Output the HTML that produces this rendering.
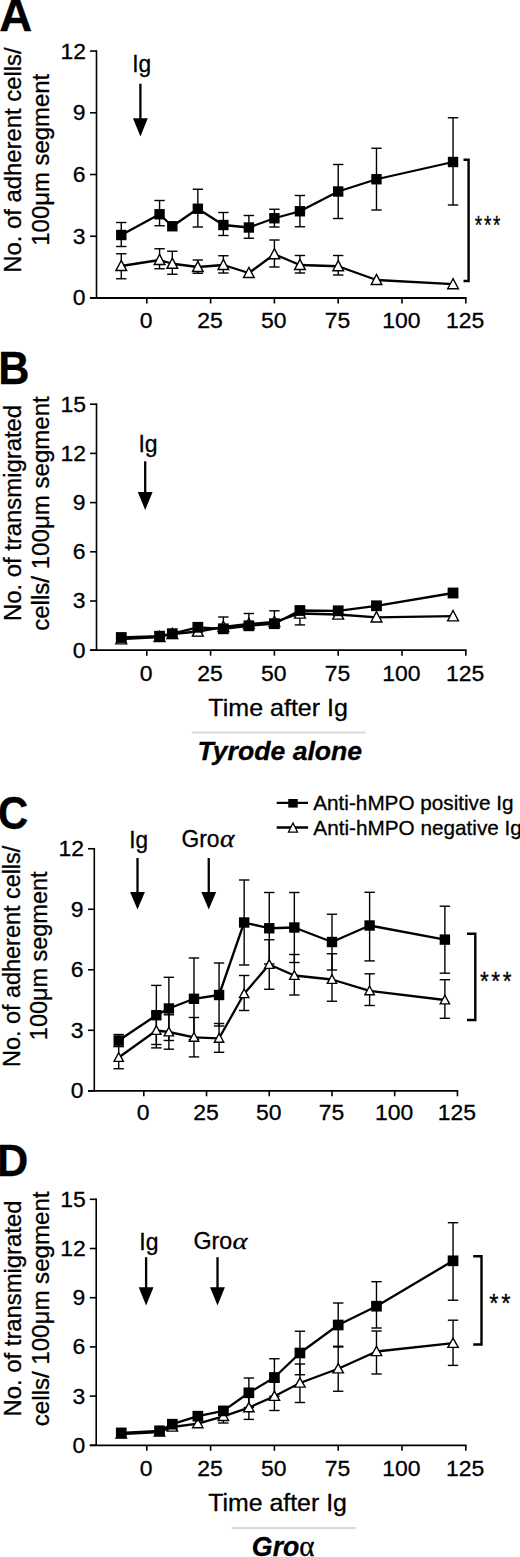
<!DOCTYPE html>
<html><head><meta charset="utf-8"><title>Figure</title>
<style>
html,body{margin:0;padding:0;background:#fff;}
body{width:520px;height:1557px;overflow:hidden;}
svg{display:block;}
text{font-family:"Liberation Sans", sans-serif;fill:#000;stroke:#000;stroke-width:0.3px;}
line{stroke:#000;}
.g{stroke:#d9d9d9 !important;}
</style></head>
<body>
<svg width="520" height="1557" viewBox="0 0 520 1557">
<rect width="520" height="1557" fill="#fff"/>
<line x1="96.50" y1="50.24" x2="96.50" y2="298.80" stroke-width="1.6"/>
<line x1="90.00" y1="298.00" x2="466.60" y2="298.00" stroke-width="1.8"/>
<line x1="90.00" y1="298.00" x2="96.50" y2="298.00" stroke-width="1.6"/>
<line x1="90.00" y1="236.26" x2="96.50" y2="236.26" stroke-width="1.6"/>
<line x1="90.00" y1="174.52" x2="96.50" y2="174.52" stroke-width="1.6"/>
<line x1="90.00" y1="112.78" x2="96.50" y2="112.78" stroke-width="1.6"/>
<line x1="90.00" y1="51.04" x2="96.50" y2="51.04" stroke-width="1.6"/>
<line x1="146.80" y1="298.00" x2="146.80" y2="303.50" stroke-width="1.6"/>
<line x1="210.60" y1="298.00" x2="210.60" y2="303.50" stroke-width="1.6"/>
<line x1="274.40" y1="298.00" x2="274.40" y2="303.50" stroke-width="1.6"/>
<line x1="338.20" y1="298.00" x2="338.20" y2="303.50" stroke-width="1.6"/>
<line x1="402.00" y1="298.00" x2="402.00" y2="303.50" stroke-width="1.6"/>
<line x1="465.80" y1="298.00" x2="465.80" y2="303.50" stroke-width="1.6"/>
<line x1="121.28" y1="253.75" x2="121.28" y2="278.75" stroke-width="1.4"/>
<line x1="116.08" y1="253.75" x2="126.48" y2="253.75" stroke-width="1.4"/>
<line x1="116.08" y1="278.75" x2="126.48" y2="278.75" stroke-width="1.4"/>
<line x1="159.56" y1="248.75" x2="159.56" y2="268.75" stroke-width="1.4"/>
<line x1="154.36" y1="248.75" x2="164.76" y2="248.75" stroke-width="1.4"/>
<line x1="154.36" y1="268.75" x2="164.76" y2="268.75" stroke-width="1.4"/>
<line x1="172.32" y1="251.25" x2="172.32" y2="274.25" stroke-width="1.4"/>
<line x1="167.12" y1="251.25" x2="177.52" y2="251.25" stroke-width="1.4"/>
<line x1="167.12" y1="274.25" x2="177.52" y2="274.25" stroke-width="1.4"/>
<line x1="197.84" y1="260.00" x2="197.84" y2="273.25" stroke-width="1.4"/>
<line x1="192.64" y1="260.00" x2="203.04" y2="260.00" stroke-width="1.4"/>
<line x1="192.64" y1="273.25" x2="203.04" y2="273.25" stroke-width="1.4"/>
<line x1="223.36" y1="255.75" x2="223.36" y2="273.00" stroke-width="1.4"/>
<line x1="218.16" y1="255.75" x2="228.56" y2="255.75" stroke-width="1.4"/>
<line x1="218.16" y1="273.00" x2="228.56" y2="273.00" stroke-width="1.4"/>
<line x1="274.40" y1="240.00" x2="274.40" y2="267.00" stroke-width="1.4"/>
<line x1="269.20" y1="240.00" x2="279.60" y2="240.00" stroke-width="1.4"/>
<line x1="269.20" y1="267.00" x2="279.60" y2="267.00" stroke-width="1.4"/>
<line x1="299.92" y1="255.50" x2="299.92" y2="273.00" stroke-width="1.4"/>
<line x1="294.72" y1="255.50" x2="305.12" y2="255.50" stroke-width="1.4"/>
<line x1="294.72" y1="273.00" x2="305.12" y2="273.00" stroke-width="1.4"/>
<line x1="338.20" y1="255.50" x2="338.20" y2="275.00" stroke-width="1.4"/>
<line x1="333.00" y1="255.50" x2="343.40" y2="255.50" stroke-width="1.4"/>
<line x1="333.00" y1="275.00" x2="343.40" y2="275.00" stroke-width="1.4"/>
<line x1="121.28" y1="222.50" x2="121.28" y2="246.50" stroke-width="1.4"/>
<line x1="116.08" y1="222.50" x2="126.48" y2="222.50" stroke-width="1.4"/>
<line x1="116.08" y1="246.50" x2="126.48" y2="246.50" stroke-width="1.4"/>
<line x1="159.56" y1="200.50" x2="159.56" y2="225.75" stroke-width="1.4"/>
<line x1="154.36" y1="200.50" x2="164.76" y2="200.50" stroke-width="1.4"/>
<line x1="154.36" y1="225.75" x2="164.76" y2="225.75" stroke-width="1.4"/>
<line x1="197.84" y1="189.25" x2="197.84" y2="227.00" stroke-width="1.4"/>
<line x1="192.64" y1="189.25" x2="203.04" y2="189.25" stroke-width="1.4"/>
<line x1="192.64" y1="227.00" x2="203.04" y2="227.00" stroke-width="1.4"/>
<line x1="223.36" y1="212.50" x2="223.36" y2="235.50" stroke-width="1.4"/>
<line x1="218.16" y1="212.50" x2="228.56" y2="212.50" stroke-width="1.4"/>
<line x1="218.16" y1="235.50" x2="228.56" y2="235.50" stroke-width="1.4"/>
<line x1="248.88" y1="215.50" x2="248.88" y2="238.25" stroke-width="1.4"/>
<line x1="243.68" y1="215.50" x2="254.08" y2="215.50" stroke-width="1.4"/>
<line x1="243.68" y1="238.25" x2="254.08" y2="238.25" stroke-width="1.4"/>
<line x1="274.40" y1="209.25" x2="274.40" y2="227.00" stroke-width="1.4"/>
<line x1="269.20" y1="209.25" x2="279.60" y2="209.25" stroke-width="1.4"/>
<line x1="269.20" y1="227.00" x2="279.60" y2="227.00" stroke-width="1.4"/>
<line x1="299.92" y1="195.50" x2="299.92" y2="226.75" stroke-width="1.4"/>
<line x1="294.72" y1="195.50" x2="305.12" y2="195.50" stroke-width="1.4"/>
<line x1="294.72" y1="226.75" x2="305.12" y2="226.75" stroke-width="1.4"/>
<line x1="338.20" y1="164.50" x2="338.20" y2="218.50" stroke-width="1.4"/>
<line x1="333.00" y1="164.50" x2="343.40" y2="164.50" stroke-width="1.4"/>
<line x1="333.00" y1="218.50" x2="343.40" y2="218.50" stroke-width="1.4"/>
<line x1="376.48" y1="148.25" x2="376.48" y2="210.00" stroke-width="1.4"/>
<line x1="371.28" y1="148.25" x2="381.68" y2="148.25" stroke-width="1.4"/>
<line x1="371.28" y1="210.00" x2="381.68" y2="210.00" stroke-width="1.4"/>
<line x1="453.04" y1="117.75" x2="453.04" y2="205.00" stroke-width="1.4"/>
<line x1="447.84" y1="117.75" x2="458.24" y2="117.75" stroke-width="1.4"/>
<line x1="447.84" y1="205.00" x2="458.24" y2="205.00" stroke-width="1.4"/>
<polyline points="121.28,266.00 159.56,260.00 172.32,263.75 197.84,267.00 223.36,265.00 248.88,273.00 274.40,254.25 299.92,265.00 338.20,266.25 376.48,280.00 453.04,284.20" fill="none" stroke="#000" stroke-width="2.3" stroke-linejoin="round"/>
<path d="M121.28 260.44L126.63 270.55L115.93 270.55Z" fill="#fff" stroke="#000" stroke-width="1.4" stroke-linejoin="miter"/>
<path d="M159.56 254.44L164.91 264.55L154.21 264.55Z" fill="#fff" stroke="#000" stroke-width="1.4" stroke-linejoin="miter"/>
<path d="M172.32 258.19L177.67 268.30L166.97 268.30Z" fill="#fff" stroke="#000" stroke-width="1.4" stroke-linejoin="miter"/>
<path d="M197.84 261.44L203.19 271.55L192.49 271.55Z" fill="#fff" stroke="#000" stroke-width="1.4" stroke-linejoin="miter"/>
<path d="M223.36 259.44L228.71 269.55L218.01 269.55Z" fill="#fff" stroke="#000" stroke-width="1.4" stroke-linejoin="miter"/>
<path d="M248.88 267.44L254.23 277.55L243.53 277.55Z" fill="#fff" stroke="#000" stroke-width="1.4" stroke-linejoin="miter"/>
<path d="M274.40 248.69L279.75 258.80L269.05 258.80Z" fill="#fff" stroke="#000" stroke-width="1.4" stroke-linejoin="miter"/>
<path d="M299.92 259.44L305.27 269.55L294.57 269.55Z" fill="#fff" stroke="#000" stroke-width="1.4" stroke-linejoin="miter"/>
<path d="M338.20 260.69L343.55 270.80L332.85 270.80Z" fill="#fff" stroke="#000" stroke-width="1.4" stroke-linejoin="miter"/>
<path d="M376.48 274.44L381.83 284.55L371.13 284.55Z" fill="#fff" stroke="#000" stroke-width="1.4" stroke-linejoin="miter"/>
<path d="M453.04 278.64L458.39 288.75L447.69 288.75Z" fill="#fff" stroke="#000" stroke-width="1.4" stroke-linejoin="miter"/>
<polyline points="121.28,235.00 159.56,214.25 172.32,226.25 197.84,208.75 223.36,225.00 248.88,227.50 274.40,218.25 299.92,211.25 338.20,191.50 376.48,179.25 453.04,162.00" fill="none" stroke="#000" stroke-width="2.3" stroke-linejoin="round"/>
<rect x="116.08" y="229.80" width="10.4" height="10.4" fill="#000"/>
<rect x="154.36" y="209.05" width="10.4" height="10.4" fill="#000"/>
<rect x="167.12" y="221.05" width="10.4" height="10.4" fill="#000"/>
<rect x="192.64" y="203.55" width="10.4" height="10.4" fill="#000"/>
<rect x="218.16" y="219.80" width="10.4" height="10.4" fill="#000"/>
<rect x="243.68" y="222.30" width="10.4" height="10.4" fill="#000"/>
<rect x="269.20" y="213.05" width="10.4" height="10.4" fill="#000"/>
<rect x="294.72" y="206.05" width="10.4" height="10.4" fill="#000"/>
<rect x="333.00" y="186.30" width="10.4" height="10.4" fill="#000"/>
<rect x="371.28" y="174.05" width="10.4" height="10.4" fill="#000"/>
<rect x="447.84" y="156.80" width="10.4" height="10.4" fill="#000"/>
<line x1="140.40" y1="83.70" x2="140.40" y2="120.30" stroke-width="2.3"/>
<path d="M133.00 118.30L147.80 118.30L140.40 136.50Z" fill="#000"/>
<path d="M463.50 159.80H468.60V281.00H463.50" fill="none" stroke="#000" stroke-width="2.4" stroke-linejoin="miter"/>
<line x1="96.50" y1="403.40" x2="96.50" y2="651.00" stroke-width="1.6"/>
<line x1="90.00" y1="650.20" x2="466.60" y2="650.20" stroke-width="1.8"/>
<line x1="90.00" y1="650.20" x2="96.50" y2="650.20" stroke-width="1.6"/>
<line x1="90.00" y1="601.00" x2="96.50" y2="601.00" stroke-width="1.6"/>
<line x1="90.00" y1="551.80" x2="96.50" y2="551.80" stroke-width="1.6"/>
<line x1="90.00" y1="502.60" x2="96.50" y2="502.60" stroke-width="1.6"/>
<line x1="90.00" y1="453.40" x2="96.50" y2="453.40" stroke-width="1.6"/>
<line x1="90.00" y1="404.20" x2="96.50" y2="404.20" stroke-width="1.6"/>
<line x1="146.80" y1="650.20" x2="146.80" y2="655.70" stroke-width="1.6"/>
<line x1="210.60" y1="650.20" x2="210.60" y2="655.70" stroke-width="1.6"/>
<line x1="274.40" y1="650.20" x2="274.40" y2="655.70" stroke-width="1.6"/>
<line x1="338.20" y1="650.20" x2="338.20" y2="655.70" stroke-width="1.6"/>
<line x1="402.00" y1="650.20" x2="402.00" y2="655.70" stroke-width="1.6"/>
<line x1="465.80" y1="650.20" x2="465.80" y2="655.70" stroke-width="1.6"/>
<line x1="197.84" y1="631.50" x2="197.84" y2="636.00" stroke-width="1.4"/>
<line x1="192.64" y1="631.50" x2="203.04" y2="631.50" stroke-width="1.4"/>
<line x1="192.64" y1="636.00" x2="203.04" y2="636.00" stroke-width="1.4"/>
<line x1="299.92" y1="613.50" x2="299.92" y2="624.90" stroke-width="1.4"/>
<line x1="294.72" y1="613.50" x2="305.12" y2="613.50" stroke-width="1.4"/>
<line x1="294.72" y1="624.90" x2="305.12" y2="624.90" stroke-width="1.4"/>
<line x1="223.36" y1="617.00" x2="223.36" y2="628.80" stroke-width="1.4"/>
<line x1="218.16" y1="617.00" x2="228.56" y2="617.00" stroke-width="1.4"/>
<line x1="218.16" y1="628.80" x2="228.56" y2="628.80" stroke-width="1.4"/>
<line x1="248.88" y1="613.50" x2="248.88" y2="625.80" stroke-width="1.4"/>
<line x1="243.68" y1="613.50" x2="254.08" y2="613.50" stroke-width="1.4"/>
<line x1="243.68" y1="625.80" x2="254.08" y2="625.80" stroke-width="1.4"/>
<line x1="274.40" y1="610.80" x2="274.40" y2="623.70" stroke-width="1.4"/>
<line x1="269.20" y1="610.80" x2="279.60" y2="610.80" stroke-width="1.4"/>
<line x1="269.20" y1="623.70" x2="279.60" y2="623.70" stroke-width="1.4"/>
<polyline points="121.28,639.20 159.56,637.00 172.32,634.00 197.84,631.50 223.36,627.00 248.88,624.00 274.40,622.00 299.92,613.50 338.20,614.50 376.48,617.30 453.04,616.20" fill="none" stroke="#000" stroke-width="2.3" stroke-linejoin="round"/>
<path d="M121.28 633.54L126.68 643.84L115.88 643.84Z" fill="#fff" stroke="#000" stroke-width="1.4" stroke-linejoin="miter"/>
<path d="M159.56 631.34L164.96 641.63L154.16 641.63Z" fill="#fff" stroke="#000" stroke-width="1.4" stroke-linejoin="miter"/>
<path d="M172.32 628.34L177.72 638.63L166.92 638.63Z" fill="#fff" stroke="#000" stroke-width="1.4" stroke-linejoin="miter"/>
<path d="M197.84 625.84L203.24 636.13L192.44 636.13Z" fill="#fff" stroke="#000" stroke-width="1.4" stroke-linejoin="miter"/>
<path d="M223.36 621.34L228.76 631.63L217.96 631.63Z" fill="#fff" stroke="#000" stroke-width="1.4" stroke-linejoin="miter"/>
<path d="M248.88 618.34L254.28 628.63L243.48 628.63Z" fill="#fff" stroke="#000" stroke-width="1.4" stroke-linejoin="miter"/>
<path d="M274.40 616.34L279.80 626.63L269.00 626.63Z" fill="#fff" stroke="#000" stroke-width="1.4" stroke-linejoin="miter"/>
<path d="M299.92 607.84L305.32 618.13L294.52 618.13Z" fill="#fff" stroke="#000" stroke-width="1.4" stroke-linejoin="miter"/>
<path d="M338.20 608.84L343.60 619.13L332.80 619.13Z" fill="#fff" stroke="#000" stroke-width="1.4" stroke-linejoin="miter"/>
<path d="M376.48 611.63L381.88 621.93L371.08 621.93Z" fill="#fff" stroke="#000" stroke-width="1.4" stroke-linejoin="miter"/>
<path d="M453.04 610.54L458.44 620.84L447.64 620.84Z" fill="#fff" stroke="#000" stroke-width="1.4" stroke-linejoin="miter"/>
<polyline points="121.28,637.50 159.56,636.20 172.32,633.70 197.84,627.30 223.36,628.80 248.88,625.80 274.40,623.70 299.92,610.50 338.20,610.80 376.48,605.80 453.04,593.00" fill="none" stroke="#000" stroke-width="2.3" stroke-linejoin="round"/>
<rect x="115.88" y="632.10" width="10.8" height="10.8" fill="#000"/>
<rect x="154.16" y="630.80" width="10.8" height="10.8" fill="#000"/>
<rect x="166.92" y="628.30" width="10.8" height="10.8" fill="#000"/>
<rect x="192.44" y="621.90" width="10.8" height="10.8" fill="#000"/>
<rect x="217.96" y="623.40" width="10.8" height="10.8" fill="#000"/>
<rect x="243.48" y="620.40" width="10.8" height="10.8" fill="#000"/>
<rect x="269.00" y="618.30" width="10.8" height="10.8" fill="#000"/>
<rect x="294.52" y="605.10" width="10.8" height="10.8" fill="#000"/>
<rect x="332.80" y="605.40" width="10.8" height="10.8" fill="#000"/>
<rect x="371.08" y="600.40" width="10.8" height="10.8" fill="#000"/>
<rect x="447.64" y="587.60" width="10.8" height="10.8" fill="#000"/>
<line x1="145.20" y1="461.30" x2="145.20" y2="494.00" stroke-width="2.3"/>
<path d="M137.80 492.00L152.60 492.00L145.20 510.00Z" fill="#000"/>
<line class="g" x1="191.9" y1="732.5" x2="365.6" y2="732.5" stroke-width="2.2"/>
<line x1="94.30" y1="847.96" x2="94.30" y2="1091.60" stroke-width="1.6"/>
<line x1="88.00" y1="1090.80" x2="458.23" y2="1090.80" stroke-width="1.8"/>
<line x1="88.00" y1="1090.80" x2="94.30" y2="1090.80" stroke-width="1.6"/>
<line x1="88.00" y1="1030.29" x2="94.30" y2="1030.29" stroke-width="1.6"/>
<line x1="88.00" y1="969.78" x2="94.30" y2="969.78" stroke-width="1.6"/>
<line x1="88.00" y1="909.27" x2="94.30" y2="909.27" stroke-width="1.6"/>
<line x1="88.00" y1="848.76" x2="94.30" y2="848.76" stroke-width="1.6"/>
<line x1="143.80" y1="1090.80" x2="143.80" y2="1096.30" stroke-width="1.6"/>
<line x1="206.53" y1="1090.80" x2="206.53" y2="1096.30" stroke-width="1.6"/>
<line x1="269.25" y1="1090.80" x2="269.25" y2="1096.30" stroke-width="1.6"/>
<line x1="331.98" y1="1090.80" x2="331.98" y2="1096.30" stroke-width="1.6"/>
<line x1="394.70" y1="1090.80" x2="394.70" y2="1096.30" stroke-width="1.6"/>
<line x1="457.43" y1="1090.80" x2="457.43" y2="1096.30" stroke-width="1.6"/>
<line x1="118.71" y1="1046.25" x2="118.71" y2="1068.75" stroke-width="1.4"/>
<line x1="113.51" y1="1046.25" x2="123.91" y2="1046.25" stroke-width="1.4"/>
<line x1="113.51" y1="1068.75" x2="123.91" y2="1068.75" stroke-width="1.4"/>
<line x1="156.34" y1="1013.00" x2="156.34" y2="1047.90" stroke-width="1.4"/>
<line x1="151.15" y1="1013.00" x2="161.54" y2="1013.00" stroke-width="1.4"/>
<line x1="151.15" y1="1047.90" x2="161.54" y2="1047.90" stroke-width="1.4"/>
<line x1="168.89" y1="1014.80" x2="168.89" y2="1049.20" stroke-width="1.4"/>
<line x1="163.69" y1="1014.80" x2="174.09" y2="1014.80" stroke-width="1.4"/>
<line x1="163.69" y1="1049.20" x2="174.09" y2="1049.20" stroke-width="1.4"/>
<line x1="193.98" y1="1017.50" x2="193.98" y2="1056.90" stroke-width="1.4"/>
<line x1="188.78" y1="1017.50" x2="199.18" y2="1017.50" stroke-width="1.4"/>
<line x1="188.78" y1="1056.90" x2="199.18" y2="1056.90" stroke-width="1.4"/>
<line x1="219.07" y1="1023.50" x2="219.07" y2="1052.30" stroke-width="1.4"/>
<line x1="213.87" y1="1023.50" x2="224.27" y2="1023.50" stroke-width="1.4"/>
<line x1="213.87" y1="1052.30" x2="224.27" y2="1052.30" stroke-width="1.4"/>
<line x1="244.16" y1="975.50" x2="244.16" y2="1010.50" stroke-width="1.4"/>
<line x1="238.96" y1="975.50" x2="249.36" y2="975.50" stroke-width="1.4"/>
<line x1="238.96" y1="1010.50" x2="249.36" y2="1010.50" stroke-width="1.4"/>
<line x1="269.25" y1="939.75" x2="269.25" y2="989.25" stroke-width="1.4"/>
<line x1="264.05" y1="939.75" x2="274.45" y2="939.75" stroke-width="1.4"/>
<line x1="264.05" y1="989.25" x2="274.45" y2="989.25" stroke-width="1.4"/>
<line x1="294.34" y1="954.50" x2="294.34" y2="995.00" stroke-width="1.4"/>
<line x1="289.14" y1="954.50" x2="299.54" y2="954.50" stroke-width="1.4"/>
<line x1="289.14" y1="995.00" x2="299.54" y2="995.00" stroke-width="1.4"/>
<line x1="331.98" y1="953.75" x2="331.98" y2="1001.25" stroke-width="1.4"/>
<line x1="326.78" y1="953.75" x2="337.18" y2="953.75" stroke-width="1.4"/>
<line x1="326.78" y1="1001.25" x2="337.18" y2="1001.25" stroke-width="1.4"/>
<line x1="369.61" y1="973.80" x2="369.61" y2="1005.50" stroke-width="1.4"/>
<line x1="364.41" y1="973.80" x2="374.81" y2="973.80" stroke-width="1.4"/>
<line x1="364.41" y1="1005.50" x2="374.81" y2="1005.50" stroke-width="1.4"/>
<line x1="444.88" y1="979.70" x2="444.88" y2="1018.30" stroke-width="1.4"/>
<line x1="439.68" y1="979.70" x2="450.08" y2="979.70" stroke-width="1.4"/>
<line x1="439.68" y1="1018.30" x2="450.08" y2="1018.30" stroke-width="1.4"/>
<line x1="118.71" y1="1034.50" x2="118.71" y2="1046.60" stroke-width="1.4"/>
<line x1="113.51" y1="1034.50" x2="123.91" y2="1034.50" stroke-width="1.4"/>
<line x1="113.51" y1="1046.60" x2="123.91" y2="1046.60" stroke-width="1.4"/>
<line x1="156.34" y1="985.40" x2="156.34" y2="1044.50" stroke-width="1.4"/>
<line x1="151.15" y1="985.40" x2="161.54" y2="985.40" stroke-width="1.4"/>
<line x1="151.15" y1="1044.50" x2="161.54" y2="1044.50" stroke-width="1.4"/>
<line x1="168.89" y1="977.30" x2="168.89" y2="1040.50" stroke-width="1.4"/>
<line x1="163.69" y1="977.30" x2="174.09" y2="977.30" stroke-width="1.4"/>
<line x1="163.69" y1="1040.50" x2="174.09" y2="1040.50" stroke-width="1.4"/>
<line x1="193.98" y1="958.00" x2="193.98" y2="1039.60" stroke-width="1.4"/>
<line x1="188.78" y1="958.00" x2="199.18" y2="958.00" stroke-width="1.4"/>
<line x1="188.78" y1="1039.60" x2="199.18" y2="1039.60" stroke-width="1.4"/>
<line x1="219.07" y1="963.00" x2="219.07" y2="1026.00" stroke-width="1.4"/>
<line x1="213.87" y1="963.00" x2="224.27" y2="963.00" stroke-width="1.4"/>
<line x1="213.87" y1="1026.00" x2="224.27" y2="1026.00" stroke-width="1.4"/>
<line x1="244.16" y1="880.00" x2="244.16" y2="965.00" stroke-width="1.4"/>
<line x1="238.96" y1="880.00" x2="249.36" y2="880.00" stroke-width="1.4"/>
<line x1="238.96" y1="965.00" x2="249.36" y2="965.00" stroke-width="1.4"/>
<line x1="269.25" y1="892.50" x2="269.25" y2="964.00" stroke-width="1.4"/>
<line x1="264.05" y1="892.50" x2="274.45" y2="892.50" stroke-width="1.4"/>
<line x1="264.05" y1="964.00" x2="274.45" y2="964.00" stroke-width="1.4"/>
<line x1="294.34" y1="892.50" x2="294.34" y2="962.50" stroke-width="1.4"/>
<line x1="289.14" y1="892.50" x2="299.54" y2="892.50" stroke-width="1.4"/>
<line x1="289.14" y1="962.50" x2="299.54" y2="962.50" stroke-width="1.4"/>
<line x1="331.98" y1="914.25" x2="331.98" y2="970.00" stroke-width="1.4"/>
<line x1="326.78" y1="914.25" x2="337.18" y2="914.25" stroke-width="1.4"/>
<line x1="326.78" y1="970.00" x2="337.18" y2="970.00" stroke-width="1.4"/>
<line x1="369.61" y1="892.30" x2="369.61" y2="960.90" stroke-width="1.4"/>
<line x1="364.41" y1="892.30" x2="374.81" y2="892.30" stroke-width="1.4"/>
<line x1="364.41" y1="960.90" x2="374.81" y2="960.90" stroke-width="1.4"/>
<line x1="444.88" y1="906.20" x2="444.88" y2="973.20" stroke-width="1.4"/>
<line x1="439.68" y1="906.20" x2="450.08" y2="906.20" stroke-width="1.4"/>
<line x1="439.68" y1="973.20" x2="450.08" y2="973.20" stroke-width="1.4"/>
<polyline points="118.71,1057.50 156.34,1030.50 168.89,1032.00 193.98,1037.30 219.07,1038.30 244.16,993.75 269.25,964.50 294.34,975.50 331.98,979.50 369.61,990.80 444.88,1000.00" fill="none" stroke="#000" stroke-width="2.3" stroke-linejoin="round"/>
<path d="M118.71 1052.71L123.41 1061.41L114.01 1061.41Z" fill="#fff" stroke="#000" stroke-width="1.4" stroke-linejoin="miter"/>
<path d="M156.34 1025.71L161.04 1034.41L151.65 1034.41Z" fill="#fff" stroke="#000" stroke-width="1.4" stroke-linejoin="miter"/>
<path d="M168.89 1027.21L173.59 1035.91L164.19 1035.91Z" fill="#fff" stroke="#000" stroke-width="1.4" stroke-linejoin="miter"/>
<path d="M193.98 1032.51L198.68 1041.21L189.28 1041.21Z" fill="#fff" stroke="#000" stroke-width="1.4" stroke-linejoin="miter"/>
<path d="M219.07 1033.51L223.77 1042.21L214.37 1042.21Z" fill="#fff" stroke="#000" stroke-width="1.4" stroke-linejoin="miter"/>
<path d="M244.16 988.97L248.86 997.66L239.46 997.66Z" fill="#fff" stroke="#000" stroke-width="1.4" stroke-linejoin="miter"/>
<path d="M269.25 959.72L273.95 968.41L264.55 968.41Z" fill="#fff" stroke="#000" stroke-width="1.4" stroke-linejoin="miter"/>
<path d="M294.34 970.72L299.04 979.41L289.64 979.41Z" fill="#fff" stroke="#000" stroke-width="1.4" stroke-linejoin="miter"/>
<path d="M331.98 974.72L336.68 983.41L327.28 983.41Z" fill="#fff" stroke="#000" stroke-width="1.4" stroke-linejoin="miter"/>
<path d="M369.61 986.01L374.31 994.71L364.91 994.71Z" fill="#fff" stroke="#000" stroke-width="1.4" stroke-linejoin="miter"/>
<path d="M444.88 995.22L449.58 1003.91L440.18 1003.91Z" fill="#fff" stroke="#000" stroke-width="1.4" stroke-linejoin="miter"/>
<polyline points="118.71,1040.50 156.34,1015.20 168.89,1008.50 193.98,998.80 219.07,995.00 244.16,922.50 269.25,928.25 294.34,927.50 331.98,942.00 369.61,925.50 444.88,939.60" fill="none" stroke="#000" stroke-width="2.3" stroke-linejoin="round"/>
<rect x="113.51" y="1035.30" width="10.4" height="10.4" fill="#000"/>
<rect x="151.15" y="1010.00" width="10.4" height="10.4" fill="#000"/>
<rect x="163.69" y="1003.30" width="10.4" height="10.4" fill="#000"/>
<rect x="188.78" y="993.60" width="10.4" height="10.4" fill="#000"/>
<rect x="213.87" y="989.80" width="10.4" height="10.4" fill="#000"/>
<rect x="238.96" y="917.30" width="10.4" height="10.4" fill="#000"/>
<rect x="264.05" y="923.05" width="10.4" height="10.4" fill="#000"/>
<rect x="289.14" y="922.30" width="10.4" height="10.4" fill="#000"/>
<rect x="326.78" y="936.80" width="10.4" height="10.4" fill="#000"/>
<rect x="364.41" y="920.30" width="10.4" height="10.4" fill="#000"/>
<rect x="439.68" y="934.40" width="10.4" height="10.4" fill="#000"/>
<line x1="137.50" y1="858.00" x2="137.50" y2="894.00" stroke-width="2.3"/>
<path d="M130.10 892.00L144.90 892.00L137.50 909.50Z" fill="#000"/>
<line x1="208.75" y1="858.00" x2="208.75" y2="894.00" stroke-width="2.3"/>
<path d="M201.35 892.00L216.15 892.00L208.75 909.50Z" fill="#000"/>
<path d="M467.00 933.80H475.30V1020.00H467.00" fill="none" stroke="#000" stroke-width="2.4" stroke-linejoin="miter"/>
<line x1="276.7" y1="802.8" x2="308.1" y2="802.8" stroke-width="2.3"/>
<rect x="288.25" y="799.00" width="9.5" height="8.6" fill="#000"/>
<line x1="276.7" y1="827.5" x2="308.1" y2="827.5" stroke-width="2.3"/>
<path d="M293.00 823.05L297.50 832.05L288.50 832.05Z" fill="#fff" stroke="#000" stroke-width="1.3" stroke-linejoin="miter"/>
<line x1="96.20" y1="1198.50" x2="96.20" y2="1446.10" stroke-width="1.6"/>
<line x1="89.80" y1="1445.30" x2="466.60" y2="1445.30" stroke-width="1.8"/>
<line x1="89.80" y1="1445.30" x2="96.20" y2="1445.30" stroke-width="1.6"/>
<line x1="89.80" y1="1396.10" x2="96.20" y2="1396.10" stroke-width="1.6"/>
<line x1="89.80" y1="1346.90" x2="96.20" y2="1346.90" stroke-width="1.6"/>
<line x1="89.80" y1="1297.70" x2="96.20" y2="1297.70" stroke-width="1.6"/>
<line x1="89.80" y1="1248.50" x2="96.20" y2="1248.50" stroke-width="1.6"/>
<line x1="89.80" y1="1199.30" x2="96.20" y2="1199.30" stroke-width="1.6"/>
<line x1="146.80" y1="1445.30" x2="146.80" y2="1450.80" stroke-width="1.6"/>
<line x1="210.60" y1="1445.30" x2="210.60" y2="1450.80" stroke-width="1.6"/>
<line x1="274.40" y1="1445.30" x2="274.40" y2="1450.80" stroke-width="1.6"/>
<line x1="338.20" y1="1445.30" x2="338.20" y2="1450.80" stroke-width="1.6"/>
<line x1="402.00" y1="1445.30" x2="402.00" y2="1450.80" stroke-width="1.6"/>
<line x1="465.80" y1="1445.30" x2="465.80" y2="1450.80" stroke-width="1.6"/>
<line x1="223.36" y1="1410.00" x2="223.36" y2="1423.00" stroke-width="1.4"/>
<line x1="218.16" y1="1410.00" x2="228.56" y2="1410.00" stroke-width="1.4"/>
<line x1="218.16" y1="1423.00" x2="228.56" y2="1423.00" stroke-width="1.4"/>
<line x1="248.88" y1="1395.80" x2="248.88" y2="1419.40" stroke-width="1.4"/>
<line x1="243.68" y1="1395.80" x2="254.08" y2="1395.80" stroke-width="1.4"/>
<line x1="243.68" y1="1419.40" x2="254.08" y2="1419.40" stroke-width="1.4"/>
<line x1="274.40" y1="1382.00" x2="274.40" y2="1410.50" stroke-width="1.4"/>
<line x1="269.20" y1="1382.00" x2="279.60" y2="1382.00" stroke-width="1.4"/>
<line x1="269.20" y1="1410.50" x2="279.60" y2="1410.50" stroke-width="1.4"/>
<line x1="299.92" y1="1364.00" x2="299.92" y2="1402.50" stroke-width="1.4"/>
<line x1="294.72" y1="1364.00" x2="305.12" y2="1364.00" stroke-width="1.4"/>
<line x1="294.72" y1="1402.50" x2="305.12" y2="1402.50" stroke-width="1.4"/>
<line x1="338.20" y1="1346.25" x2="338.20" y2="1391.25" stroke-width="1.4"/>
<line x1="333.00" y1="1346.25" x2="343.40" y2="1346.25" stroke-width="1.4"/>
<line x1="333.00" y1="1391.25" x2="343.40" y2="1391.25" stroke-width="1.4"/>
<line x1="376.48" y1="1331.00" x2="376.48" y2="1374.00" stroke-width="1.4"/>
<line x1="371.28" y1="1331.00" x2="381.68" y2="1331.00" stroke-width="1.4"/>
<line x1="371.28" y1="1374.00" x2="381.68" y2="1374.00" stroke-width="1.4"/>
<line x1="453.04" y1="1320.20" x2="453.04" y2="1365.40" stroke-width="1.4"/>
<line x1="447.84" y1="1320.20" x2="458.24" y2="1320.20" stroke-width="1.4"/>
<line x1="447.84" y1="1365.40" x2="458.24" y2="1365.40" stroke-width="1.4"/>
<line x1="248.88" y1="1378.00" x2="248.88" y2="1407.50" stroke-width="1.4"/>
<line x1="243.68" y1="1378.00" x2="254.08" y2="1378.00" stroke-width="1.4"/>
<line x1="243.68" y1="1407.50" x2="254.08" y2="1407.50" stroke-width="1.4"/>
<line x1="274.40" y1="1358.75" x2="274.40" y2="1396.25" stroke-width="1.4"/>
<line x1="269.20" y1="1358.75" x2="279.60" y2="1358.75" stroke-width="1.4"/>
<line x1="269.20" y1="1396.25" x2="279.60" y2="1396.25" stroke-width="1.4"/>
<line x1="299.92" y1="1331.25" x2="299.92" y2="1374.75" stroke-width="1.4"/>
<line x1="294.72" y1="1331.25" x2="305.12" y2="1331.25" stroke-width="1.4"/>
<line x1="294.72" y1="1374.75" x2="305.12" y2="1374.75" stroke-width="1.4"/>
<line x1="338.20" y1="1303.00" x2="338.20" y2="1347.00" stroke-width="1.4"/>
<line x1="333.00" y1="1303.00" x2="343.40" y2="1303.00" stroke-width="1.4"/>
<line x1="333.00" y1="1347.00" x2="343.40" y2="1347.00" stroke-width="1.4"/>
<line x1="376.48" y1="1281.70" x2="376.48" y2="1328.00" stroke-width="1.4"/>
<line x1="371.28" y1="1281.70" x2="381.68" y2="1281.70" stroke-width="1.4"/>
<line x1="371.28" y1="1328.00" x2="381.68" y2="1328.00" stroke-width="1.4"/>
<line x1="453.04" y1="1222.70" x2="453.04" y2="1300.20" stroke-width="1.4"/>
<line x1="447.84" y1="1222.70" x2="458.24" y2="1222.70" stroke-width="1.4"/>
<line x1="447.84" y1="1300.20" x2="458.24" y2="1300.20" stroke-width="1.4"/>
<polyline points="121.28,1434.00 159.56,1432.00 172.32,1427.00 197.84,1423.60 223.36,1416.30 248.88,1407.60 274.40,1396.25 299.92,1383.00 338.20,1368.75 376.48,1351.50 453.04,1343.20" fill="none" stroke="#000" stroke-width="2.3" stroke-linejoin="round"/>
<path d="M121.28 1428.94L126.48 1438.14L116.08 1438.14Z" fill="#fff" stroke="#000" stroke-width="1.4" stroke-linejoin="miter"/>
<path d="M159.56 1426.94L164.76 1436.14L154.36 1436.14Z" fill="#fff" stroke="#000" stroke-width="1.4" stroke-linejoin="miter"/>
<path d="M172.32 1421.94L177.52 1431.14L167.12 1431.14Z" fill="#fff" stroke="#000" stroke-width="1.4" stroke-linejoin="miter"/>
<path d="M197.84 1418.54L203.04 1427.74L192.64 1427.74Z" fill="#fff" stroke="#000" stroke-width="1.4" stroke-linejoin="miter"/>
<path d="M223.36 1411.24L228.56 1420.44L218.16 1420.44Z" fill="#fff" stroke="#000" stroke-width="1.4" stroke-linejoin="miter"/>
<path d="M248.88 1402.54L254.08 1411.74L243.68 1411.74Z" fill="#fff" stroke="#000" stroke-width="1.4" stroke-linejoin="miter"/>
<path d="M274.40 1391.19L279.60 1400.39L269.20 1400.39Z" fill="#fff" stroke="#000" stroke-width="1.4" stroke-linejoin="miter"/>
<path d="M299.92 1377.94L305.12 1387.14L294.72 1387.14Z" fill="#fff" stroke="#000" stroke-width="1.4" stroke-linejoin="miter"/>
<path d="M338.20 1363.69L343.40 1372.89L333.00 1372.89Z" fill="#fff" stroke="#000" stroke-width="1.4" stroke-linejoin="miter"/>
<path d="M376.48 1346.44L381.68 1355.64L371.28 1355.64Z" fill="#fff" stroke="#000" stroke-width="1.4" stroke-linejoin="miter"/>
<path d="M453.04 1338.14L458.24 1347.34L447.84 1347.34Z" fill="#fff" stroke="#000" stroke-width="1.4" stroke-linejoin="miter"/>
<polyline points="121.28,1432.90 159.56,1430.80 172.32,1424.20 197.84,1416.20 223.36,1410.90 248.88,1392.80 274.40,1377.50 299.92,1353.00 338.20,1325.00 376.48,1306.20 453.04,1260.80" fill="none" stroke="#000" stroke-width="2.3" stroke-linejoin="round"/>
<rect x="115.93" y="1427.55" width="10.7" height="10.7" fill="#000"/>
<rect x="154.21" y="1425.45" width="10.7" height="10.7" fill="#000"/>
<rect x="166.97" y="1418.85" width="10.7" height="10.7" fill="#000"/>
<rect x="192.49" y="1410.85" width="10.7" height="10.7" fill="#000"/>
<rect x="218.01" y="1405.55" width="10.7" height="10.7" fill="#000"/>
<rect x="243.53" y="1387.45" width="10.7" height="10.7" fill="#000"/>
<rect x="269.05" y="1372.15" width="10.7" height="10.7" fill="#000"/>
<rect x="294.57" y="1347.65" width="10.7" height="10.7" fill="#000"/>
<rect x="332.85" y="1319.65" width="10.7" height="10.7" fill="#000"/>
<rect x="371.13" y="1300.85" width="10.7" height="10.7" fill="#000"/>
<rect x="447.69" y="1255.45" width="10.7" height="10.7" fill="#000"/>
<line x1="146.10" y1="1257.20" x2="146.10" y2="1289.30" stroke-width="2.3"/>
<path d="M138.70 1287.30L153.50 1287.30L146.10 1305.60Z" fill="#000"/>
<line x1="217.50" y1="1257.20" x2="217.50" y2="1289.30" stroke-width="2.3"/>
<path d="M210.10 1287.30L224.90 1287.30L217.50 1305.60Z" fill="#000"/>
<path d="M473.20 1256.30H481.50V1344.50H473.20" fill="none" stroke="#000" stroke-width="2.4" stroke-linejoin="miter"/>
<line class="g" x1="231.9" y1="1528.1" x2="355.7" y2="1528.1" stroke-width="2.2"/>
<text transform="translate(72.86,305.47) scale(1.0200,0.9700)" font-size="22.5" font-weight="normal" font-style="normal">0</text>
<text transform="translate(72.86,243.73) scale(1.0200,0.9700)" font-size="22.5" font-weight="normal" font-style="normal">3</text>
<text transform="translate(72.86,182.00) scale(1.0200,0.9700)" font-size="22.5" font-weight="normal" font-style="normal">6</text>
<text transform="translate(72.86,120.26) scale(1.0200,0.9700)" font-size="22.5" font-weight="normal" font-style="normal">9</text>
<text transform="translate(60.62,58.52) scale(1.0200,0.9700)" font-size="22.5" font-weight="normal" font-style="normal">12</text>
<text transform="translate(146.20,327.50) scale(1.0200,0.9700)" text-anchor="middle" font-size="22.5" font-weight="normal" font-style="normal">0</text>
<text transform="translate(210.00,327.50) scale(1.0200,0.9700)" text-anchor="middle" font-size="22.5" font-weight="normal" font-style="normal">25</text>
<text transform="translate(273.80,327.50) scale(1.0200,0.9700)" text-anchor="middle" font-size="22.5" font-weight="normal" font-style="normal">50</text>
<text transform="translate(337.60,327.50) scale(1.0200,0.9700)" text-anchor="middle" font-size="22.5" font-weight="normal" font-style="normal">75</text>
<text transform="translate(401.40,327.50) scale(1.0200,0.9700)" text-anchor="middle" font-size="22.5" font-weight="normal" font-style="normal">100</text>
<text transform="translate(465.20,327.50) scale(1.0200,0.9700)" text-anchor="middle" font-size="22.5" font-weight="normal" font-style="normal">125</text>
<text transform="translate(-0.66,31.20) scale(1.0621,1.0690)" font-size="43" font-weight="bold" font-style="normal">A</text>
<text transform="translate(132.21,72.12) scale(0.9471,0.9955)" font-size="24" font-weight="normal" font-style="normal">Ig</text>
<text transform="translate(474.84,234.27) scale(0.8643,1.1714)" font-size="22" font-weight="normal" font-style="normal" letter-spacing="2.0">***</text>
<text transform="translate(20.80,272.79) rotate(-90) scale(0.9942,0.9950)" font-size="24" font-weight="normal" font-style="normal">No. of adherent cells/</text>
<text transform="translate(49.00,245.69) rotate(-90) scale(0.9965,0.9950)" font-size="24" font-weight="normal" font-style="normal">100&#956;m segment</text>
<text transform="translate(72.86,657.68) scale(1.0200,0.9700)" font-size="22.5" font-weight="normal" font-style="normal">0</text>
<text transform="translate(72.86,608.48) scale(1.0200,0.9700)" font-size="22.5" font-weight="normal" font-style="normal">3</text>
<text transform="translate(72.86,559.28) scale(1.0200,0.9700)" font-size="22.5" font-weight="normal" font-style="normal">6</text>
<text transform="translate(72.86,510.07) scale(1.0200,0.9700)" font-size="22.5" font-weight="normal" font-style="normal">9</text>
<text transform="translate(60.62,460.88) scale(1.0200,0.9700)" font-size="22.5" font-weight="normal" font-style="normal">12</text>
<text transform="translate(60.62,411.68) scale(1.0200,0.9700)" font-size="22.5" font-weight="normal" font-style="normal">15</text>
<text transform="translate(146.20,680.80) scale(1.0200,0.9700)" text-anchor="middle" font-size="22.5" font-weight="normal" font-style="normal">0</text>
<text transform="translate(210.00,680.80) scale(1.0200,0.9700)" text-anchor="middle" font-size="22.5" font-weight="normal" font-style="normal">25</text>
<text transform="translate(273.80,680.80) scale(1.0200,0.9700)" text-anchor="middle" font-size="22.5" font-weight="normal" font-style="normal">50</text>
<text transform="translate(337.60,680.80) scale(1.0200,0.9700)" text-anchor="middle" font-size="22.5" font-weight="normal" font-style="normal">75</text>
<text transform="translate(401.40,680.80) scale(1.0200,0.9700)" text-anchor="middle" font-size="22.5" font-weight="normal" font-style="normal">100</text>
<text transform="translate(465.20,680.80) scale(1.0200,0.9700)" text-anchor="middle" font-size="22.5" font-weight="normal" font-style="normal">125</text>
<text transform="translate(-1.87,383.50) scale(1.0058,1.0690)" font-size="43" font-weight="bold" font-style="normal">B</text>
<text transform="translate(138.38,451.97) scale(0.9588,0.9864)" font-size="24" font-weight="normal" font-style="normal">Ig</text>
<text transform="translate(208.36,716.00) scale(1.0443,1.0000)" font-size="24" font-weight="normal" font-style="normal">Time after Ig</text>
<text transform="translate(197.55,760.16) scale(1.0234,1.0083)" font-size="26" font-weight="bold" font-style="italic">Tyrode alone</text>
<text transform="translate(20.80,620.99) rotate(-90) scale(0.9939,0.9950)" font-size="24" font-weight="normal" font-style="normal">No. of transmigrated</text>
<text transform="translate(48.60,630.80) rotate(-90) scale(1.0034,0.9950)" font-size="24" font-weight="normal" font-style="normal">cells/ 100&#956;m segment</text>
<text transform="translate(70.66,1098.28) scale(1.0200,0.9700)" font-size="22.5" font-weight="normal" font-style="normal">0</text>
<text transform="translate(70.66,1037.77) scale(1.0200,0.9700)" font-size="22.5" font-weight="normal" font-style="normal">3</text>
<text transform="translate(70.66,977.25) scale(1.0200,0.9700)" font-size="22.5" font-weight="normal" font-style="normal">6</text>
<text transform="translate(70.66,916.75) scale(1.0200,0.9700)" font-size="22.5" font-weight="normal" font-style="normal">9</text>
<text transform="translate(58.42,856.24) scale(1.0200,0.9700)" font-size="22.5" font-weight="normal" font-style="normal">12</text>
<text transform="translate(143.20,1120.30) scale(1.0200,0.9700)" text-anchor="middle" font-size="22.5" font-weight="normal" font-style="normal">0</text>
<text transform="translate(205.93,1120.30) scale(1.0200,0.9700)" text-anchor="middle" font-size="22.5" font-weight="normal" font-style="normal">25</text>
<text transform="translate(268.65,1120.30) scale(1.0200,0.9700)" text-anchor="middle" font-size="22.5" font-weight="normal" font-style="normal">50</text>
<text transform="translate(331.38,1120.30) scale(1.0200,0.9700)" text-anchor="middle" font-size="22.5" font-weight="normal" font-style="normal">75</text>
<text transform="translate(394.10,1120.30) scale(1.0200,0.9700)" text-anchor="middle" font-size="22.5" font-weight="normal" font-style="normal">100</text>
<text transform="translate(456.82,1120.30) scale(1.0200,0.9700)" text-anchor="middle" font-size="22.5" font-weight="normal" font-style="normal">125</text>
<text transform="translate(-1.95,828.70) scale(0.9750,1.0690)" font-size="43" font-weight="bold" font-style="normal">C</text>
<text transform="translate(129.32,847.79) scale(0.9412,0.9818)" font-size="24" font-weight="normal" font-style="normal">Ig</text>
<text transform="translate(181.45,847.30) scale(0.9500,0.9824)" font-size="24" font-weight="normal" font-style="normal">Gro</text>
<text transform="translate(220.05,846.90) scale(1.1500,1.0182)" font-size="24" font-weight="normal" font-style="italic"><tspan font-family="Liberation Serif">&#945;</tspan></text>
<text transform="translate(480.08,990.39) scale(1.0207,1.1857)" font-size="22" font-weight="normal" font-style="normal" letter-spacing="2.5">***</text>
<text transform="translate(313.30,809.90) scale(1.0205,1.0300)" font-size="20.3" font-weight="normal" font-style="normal">Anti-hMPO positive Ig</text>
<text transform="translate(313.30,834.70) scale(1.0222,1.0300)" font-size="20.3" font-weight="normal" font-style="normal">Anti-hMPO negative Ig</text>
<text transform="translate(19.80,1066.95) rotate(-90) scale(0.9760,0.9950)" font-size="24" font-weight="normal" font-style="normal">No. of adherent cells/</text>
<text transform="translate(47.30,1040.16) rotate(-90) scale(0.9782,0.9950)" font-size="24" font-weight="normal" font-style="normal">100&#956;m segment</text>
<text transform="translate(72.56,1452.78) scale(1.0200,0.9700)" font-size="22.5" font-weight="normal" font-style="normal">0</text>
<text transform="translate(72.56,1403.58) scale(1.0200,0.9700)" font-size="22.5" font-weight="normal" font-style="normal">3</text>
<text transform="translate(72.56,1354.38) scale(1.0200,0.9700)" font-size="22.5" font-weight="normal" font-style="normal">6</text>
<text transform="translate(72.56,1305.18) scale(1.0200,0.9700)" font-size="22.5" font-weight="normal" font-style="normal">9</text>
<text transform="translate(60.32,1255.98) scale(1.0200,0.9700)" font-size="22.5" font-weight="normal" font-style="normal">12</text>
<text transform="translate(60.32,1206.78) scale(1.0200,0.9700)" font-size="22.5" font-weight="normal" font-style="normal">15</text>
<text transform="translate(146.20,1475.90) scale(1.0200,0.9700)" text-anchor="middle" font-size="22.5" font-weight="normal" font-style="normal">0</text>
<text transform="translate(210.00,1475.90) scale(1.0200,0.9700)" text-anchor="middle" font-size="22.5" font-weight="normal" font-style="normal">25</text>
<text transform="translate(273.80,1475.90) scale(1.0200,0.9700)" text-anchor="middle" font-size="22.5" font-weight="normal" font-style="normal">50</text>
<text transform="translate(337.60,1475.90) scale(1.0200,0.9700)" text-anchor="middle" font-size="22.5" font-weight="normal" font-style="normal">75</text>
<text transform="translate(401.40,1475.90) scale(1.0200,0.9700)" text-anchor="middle" font-size="22.5" font-weight="normal" font-style="normal">100</text>
<text transform="translate(465.20,1475.90) scale(1.0200,0.9700)" text-anchor="middle" font-size="22.5" font-weight="normal" font-style="normal">125</text>
<text transform="translate(-3.02,1176.10) scale(1.0077,1.0450)" font-size="43" font-weight="bold" font-style="normal">D</text>
<text transform="translate(139.28,1249.97) scale(0.9588,0.9864)" font-size="24" font-weight="normal" font-style="normal">Ig</text>
<text transform="translate(193.43,1249.30) scale(0.9684,0.9824)" font-size="24" font-weight="normal" font-style="normal">Gro</text>
<text transform="translate(232.62,1248.90) scale(1.1833,0.9909)" font-size="24" font-weight="normal" font-style="italic"><tspan font-family="Liberation Serif">&#945;</tspan></text>
<text transform="translate(489.33,1312.16) scale(1.0722,1.1571)" font-size="22" font-weight="normal" font-style="normal" letter-spacing="2.5">**</text>
<text transform="translate(208.16,1511.20) scale(1.0374,1.0000)" font-size="24" font-weight="normal" font-style="normal">Time after Ig</text>
<text transform="translate(251.87,1555.50) scale(1.0273,1.0333)" font-size="26" font-weight="bold" font-style="italic">Gro</text>
<text transform="translate(299.28,1556.20) scale(1.1167,1.1417)" font-size="26" font-weight="normal" font-style="normal"><tspan font-family="Liberation Serif">&#945;</tspan></text>
<text transform="translate(20.70,1416.39) rotate(-90) scale(0.9930,0.9950)" font-size="24" font-weight="normal" font-style="normal">No. of transmigrated</text>
<text transform="translate(48.80,1426.20) rotate(-90) scale(1.0039,0.9950)" font-size="24" font-weight="normal" font-style="normal">cells/ 100&#956;m segment</text>
</svg>
</body></html>
